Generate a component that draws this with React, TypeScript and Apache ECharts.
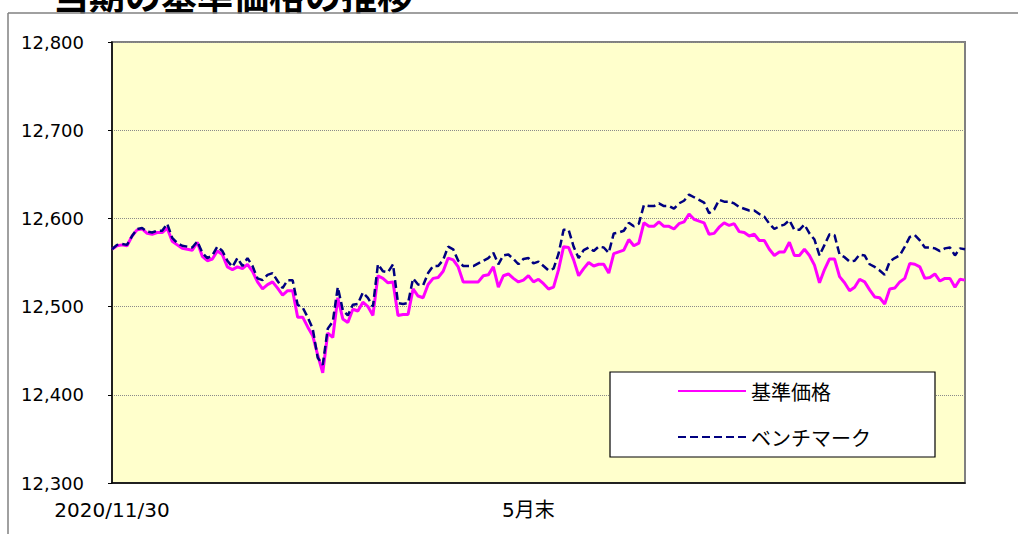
import React, { useEffect, useRef } from "react";
import * as echarts from "echarts";

const navValues = [
  12565, 12569, 12570, 12569, 12580, 12587, 12588, 12583, 12582, 12584,
  12584, 12589, 12574, 12570, 12566, 12565, 12564, 12573, 12557, 12552,
  12554, 12563, 12559, 12545, 12542, 12545, 12543, 12548, 12540, 12528,
  12520, 12525, 12528, 12521, 12513, 12518, 12518, 12488, 12488, 12477,
  12467, 12445, 12425, 12470, 12465, 12510, 12486, 12482, 12497, 12495,
  12505, 12500, 12490, 12535, 12532, 12527, 12528, 12490, 12491, 12491,
  12520, 12512, 12510, 12525, 12532, 12533, 12540, 12555, 12553, 12545,
  12528, 12528, 12528, 12528, 12535, 12536, 12545, 12522, 12535, 12537,
  12532, 12528, 12530, 12535, 12528, 12531, 12526, 12520, 12522, 12542,
  12568, 12567, 12553, 12535, 12543, 12550, 12546, 12548, 12548, 12538,
  12560, 12562, 12564, 12576, 12569, 12572, 12595, 12591, 12591, 12596,
  12591, 12591, 12588, 12594, 12596, 12605, 12599, 12597, 12595, 12582,
  12583, 12590, 12595, 12592, 12594, 12585, 12584, 12580, 12582, 12575,
  12575, 12565, 12558, 12562, 12562, 12573, 12558, 12558, 12565, 12558,
  12547, 12527, 12542, 12554, 12554, 12534, 12527, 12518, 12522, 12531,
  12528, 12519, 12511, 12510, 12503, 12520, 12521, 12528, 12532, 12549,
  12548, 12545, 12532, 12533, 12537, 12529, 12532, 12532, 12522, 12531,
  12530,
];

const benchmarkValues = [
  12565, 12570, 12571, 12570, 12580, 12588, 12589, 12585, 12584, 12586,
  12586, 12594, 12578, 12572, 12569, 12568, 12567, 12574, 12561, 12555,
  12558, 12568, 12563, 12552, 12545, 12555, 12546, 12555, 12546, 12532,
  12530, 12536, 12538, 12529, 12521, 12530, 12530, 12502, 12499, 12488,
  12475, 12442, 12434, 12475, 12483, 12522, 12496, 12490, 12502, 12503,
  12516, 12510, 12500, 12548, 12540, 12539, 12548, 12504, 12503, 12504,
  12532, 12525, 12524, 12538, 12546, 12546, 12553, 12568, 12565, 12552,
  12546, 12546, 12546, 12549, 12552, 12555, 12561, 12548, 12558, 12559,
  12554, 12548, 12554, 12555, 12549, 12551, 12546, 12541, 12543, 12560,
  12587, 12587, 12568, 12555, 12564, 12567, 12563, 12568, 12567, 12561,
  12583, 12584, 12586, 12595, 12591, 12594, 12615, 12614, 12614, 12617,
  12614, 12614, 12611, 12617, 12620, 12627, 12624, 12621, 12618, 12606,
  12610, 12621, 12619, 12619, 12617, 12613, 12611, 12609, 12609, 12605,
  12602, 12594, 12588, 12591, 12593, 12598, 12587, 12587, 12593, 12583,
  12576, 12558, 12570, 12582, 12581, 12559, 12556, 12551, 12552, 12559,
  12558, 12548, 12545, 12541, 12536, 12551, 12555, 12558, 12568, 12579,
  12581, 12575, 12567, 12567, 12566, 12563, 12566, 12567, 12558, 12566,
  12565,
];

const xTickLabels: Record<number, string> = { 0: "2020/11/30", 83: "5月末" };
const categories = navValues.map((_, i) => xTickLabels[i] ?? String(i));
const seriesNames = ["基準価格", "ベンチマーク"];
const titleText = "当期の基準価格の推移";

export default function App() {
  const ref = useRef<HTMLDivElement>(null);
  useEffect(() => {
    if (!ref.current) return;
    const chart = echarts.init(ref.current, null, { renderer: "svg" });
    chart.setOption({
      animation: false,
      backgroundColor: "#ffffff",
      grid: {
        left: 112,
        top: 42,
        right: 53,
        bottom: 51,
        show: true,
        backgroundColor: "#FFFFCC",
        borderColor: "#808080",
        borderWidth: 2,
      },
      xAxis: {
        type: "category",
        data: categories,
        boundaryGap: false,
        axisLine: { show: true, lineStyle: { color: "#000", width: 1.5 } },
        axisTick: { show: false },
        axisLabel: {
          interval: (index: number) => xTickLabels[index] !== undefined,
          formatter: (v: string, i: number) => xTickLabels[i] ?? "",
          margin: 17,
          fontSize: 20,
          color: "#000",
          fontFamily: "DejaVu Sans, Noto Sans CJK JP",
        },
        splitLine: { show: false },
      },
      yAxis: {
        type: "value",
        min: 12300,
        max: 12800,
        interval: 100,
        axisLine: { show: true, lineStyle: { color: "#000", width: 1.5 } },
        axisTick: { show: true, length: 4, lineStyle: { color: "#000" } },
        axisLabel: {
          margin: 28,
          fontSize: 18,
          color: "#000",
          fontFamily: "DejaVu Sans",
          formatter: (v: number) => v.toLocaleString("en-US"),
        },
        splitLine: {
          show: true,
          lineStyle: { color: "#8a8a8a", type: "dotted", width: 1 },
        },
      },
      legend: {
        show: true,
        orient: "vertical",
        left: 672,
        top: 376,
        itemWidth: 68,
        itemHeight: 18,
        itemGap: 26,
        z: 20,
        itemStyle: { opacity: 0 },
        textStyle: {
          fontSize: 20,
          color: "#000",
          fontFamily: "Noto Sans CJK JP",
        },
        data: seriesNames,
      },
      graphic: [
        {
          type: "line",
          shape: { x1: 8, y1: 13, x2: 1018, y2: 13 },
          style: { stroke: "#808080", lineWidth: 1.5 },
          z: 1,
        },
        {
          type: "line",
          shape: { x1: 8, y1: 13, x2: 8, y2: 534 },
          style: { stroke: "#808080", lineWidth: 1.5 },
          z: 1,
        },
        {
          type: "text",
          x: 15,
          y: -6,
          style: {
            text: "1．",
            fontSize: 36,
            fontWeight: "bold",
            fill: "#000",
            fontFamily: "Noto Sans CJK JP",
            textAlign: "right",
            textVerticalAlign: "middle",
          },
        },
        {
          type: "text",
          x: 53,
          y: -6,
          style: {
            text: titleText,
            fontSize: 36,
            fontWeight: "bold",
            fill: "#000",
            fontFamily: "Noto Sans CJK JP",
            textAlign: "left",
            textVerticalAlign: "middle",
          },
        },
        {
          type: "rect",
          shape: { x: 610, y: 372, width: 325, height: 85 },
          style: { fill: "#ffffff", stroke: "#000", lineWidth: 1.2 },
          z: 6,
        },
      ],
      series: [
        {
          name: seriesNames[0],
          type: "line",
          data: navValues,
          symbol: "none",
          lineStyle: { color: "#FF00FF", width: 3 },
          itemStyle: { color: "#FF00FF" },
          z: 3,
        },
        {
          name: seriesNames[1],
          type: "line",
          data: benchmarkValues,
          symbol: "none",
          lineStyle: { color: "#000080", width: 2.5, type: [8, 4] },
          itemStyle: { color: "#000080" },
          z: 4,
        },
      ],
    });
    return () => chart.dispose();
  }, []);
  return (
    <div
      ref={ref}
      style={{ position: "fixed", left: 0, top: 0, width: 1018, height: 534 }}
    />
  );
}
